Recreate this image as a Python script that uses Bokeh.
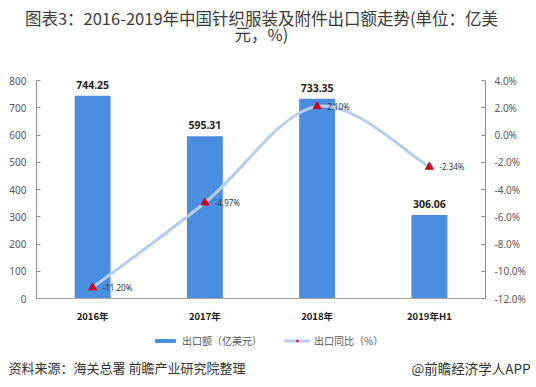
import numpy as np
from bokeh.plotting import figure
from bokeh.models import (Range1d, LinearAxis, FixedTicker, Legend, LegendItem, Label,
                          ColumnDataSource, PrintfTickFormatter)
from bokeh.core.properties import value
from bokeh.embed import file_html
from bokeh.resources import INLINE

# ---------------- data ----------------
categories = ["2016年", "2017年", "2018年", "2019年H1"]
export_value = [744.25, 595.31, 733.35, 306.06]          # 亿美元
export_yoy = [-11.20, -4.97, 2.10, -2.34]                # %
value_labels = ["744.25", "595.31", "733.35", "306.06"]
yoy_labels = ["-11.20%", "-4.97%", "2.10%", "-2.34%"]
left_ticks = [0, 100, 200, 300, 400, 500, 600, 700, 800]
right_ticks = [-12, -10, -8, -6, -4, -2, 0, 2, 4]

title_line1 = "图表3：2016-2019年中国针织服装及附件出口额走势(单位：亿美"
title_line2 = "元，%)"
source_text = "资料来源：海关总署 前瞻产业研究院整理"
brand_text = "@前瞻经济学人APP"
legend_bar = "出口额（亿美元）"
legend_line = "出口同比（%）"

# ---------------- style ----------------
CJK = "Noto Sans CJK SC"
LAT = "Noto Sans"
BAR_COLOR = "#4a8ee0"
LINE_COLOR = "#b7cdea"
MARK_COLOR = "#d0021b"
AXIS_COLOR = "#8c8c8c"
TICK_TEXT = "#595959"

W, H = 536, 387
PL, PR, PT, PB = 36, 485, 80, 298      # plot-area edges in canvas px
n = len(categories)
xs = [i + 0.5 for i in range(n)]

x_per_px = n / (PR - PL)
lo, hi = left_ticks[0], left_ticks[-1]
rlo, rhi = right_ticks[0], right_ticks[-1]
y_per_px = (hi - lo) / (PB - PT)
r_per_px = (rhi - rlo) / (PB - PT)

def X(px):
    return (px - PL) * x_per_px

def Y(py):
    return lo + (PB - py) * y_per_px

p = figure(width=W, height=H, output_backend="svg", toolbar_location=None,
           x_range=Range1d(X(0), X(W)), y_range=Range1d(Y(H), Y(0)),
           min_border_left=0, min_border_right=0, min_border_top=0,
           min_border_bottom=0)
p.extra_y_ranges = {"pct": Range1d(rlo - (H - PB) * r_per_px, rhi + PT * r_per_px)}
p.outline_line_color = None
p.xgrid.visible = False
p.ygrid.visible = False
p.background_fill_color = "white"
p.border_fill_color = "white"

# axes (drawn at fixed places inside the canvas)
ya = p.yaxis[0]
ya.fixed_location = 0
ya.bounds = (lo, hi)
ya.ticker = FixedTicker(ticks=left_ticks)
ya.axis_line_color = AXIS_COLOR
ya.major_tick_line_color = AXIS_COLOR
ya.major_tick_in = 4
ya.major_tick_out = 0
ya.minor_tick_line_color = None
ya.major_label_text_font = LAT
ya.major_label_text_font_size = "10px"
ya.major_label_text_color = TICK_TEXT
ya.major_label_standoff = 10

ra = LinearAxis(y_range_name="pct", ticker=FixedTicker(ticks=right_ticks),
                formatter=PrintfTickFormatter(format="%.1f%%"))
ra.fixed_location = n
ra.bounds = (rlo, rhi)
ra.axis_line_color = AXIS_COLOR
ra.major_tick_line_color = AXIS_COLOR
ra.major_tick_in = 4
ra.major_tick_out = 0
ra.minor_tick_line_color = None
ra.major_label_text_font = LAT
ra.major_label_text_font_size = "10px"
ra.major_label_text_color = TICK_TEXT
ra.major_label_standoff = 9
p.add_layout(ra, "right")

xa = p.xaxis[0]
xa.fixed_location = lo
xa.bounds = (0, n)
xa.ticker = FixedTicker(ticks=xs)
xa.major_label_overrides = {x: c for x, c in zip(xs, categories)}
xa.axis_line_color = "#a6a6a6"
xa.major_tick_line_color = None
xa.minor_tick_line_color = None
xa.major_label_text_font = CJK
xa.major_label_text_font_style = "bold"
xa.major_label_text_font_size = "9.5px"
xa.major_label_text_color = "#1a1a1a"
xa.major_label_standoff = 4

# bars
src = ColumnDataSource(dict(x=xs, v=export_value, y=export_yoy,
                            vl=value_labels, yl=yoy_labels))
bars = p.vbar(x="x", top="v", width=0.32, bottom=0, source=src,
              fill_color=BAR_COLOR, line_color=None)
p.text(x="x", y="v", text="vl", source=src, text_align="center",
       text_baseline="bottom", y_offset=-7, text_font=value(LAT),
       text_font_style="bold", text_font_size="10.5px", text_color="#1f1f1f")

# smooth line (Catmull-Rom -> Bezier)
pts = np.array(list(zip(xs, export_yoy)), dtype=float)
b = dict(x0=[], y0=[], x1=[], y1=[], cx0=[], cy0=[], cx1=[], cy1=[])
for i in range(n - 1):
    pm = pts[max(i - 1, 0)]
    p0 = pts[i]
    p1 = pts[i + 1]
    p2 = pts[min(i + 2, n - 1)]
    c0 = p0 + (p1 - pm) / 6
    c1 = p1 - (p2 - p0) / 6
    b["x0"].append(p0[0]); b["y0"].append(p0[1])
    b["x1"].append(p1[0]); b["y1"].append(p1[1])
    b["cx0"].append(c0[0]); b["cy0"].append(c0[1])
    b["cx1"].append(c1[0]); b["cy1"].append(c1[1])
line = p.bezier(source=ColumnDataSource(b), x0="x0", y0="y0", x1="x1", y1="y1",
                cx0="cx0", cy0="cy0", cx1="cx1", cy1="cy1",
                line_color=LINE_COLOR, line_width=3, y_range_name="pct")
marks = p.scatter(x="x", y="y", source=src, marker="triangle", size=8,
                  fill_color=MARK_COLOR, line_color=MARK_COLOR, y_range_name="pct")
p.text(x="x", y="y", text="yl", source=src, y_range_name="pct",
       text_align="left", text_baseline="middle", x_offset=10,
       text_font=value(LAT), text_font_size="8px", text_color="#333333")

# legend
leg = Legend(items=[LegendItem(label=legend_bar, renderers=[bars]),
                    LegendItem(label=legend_line, renderers=[line, marks])],
             orientation="horizontal", location=(152, 39),
             label_text_font=CJK, label_text_font_size="10px",
             label_text_color=TICK_TEXT, glyph_width=26, glyph_height=5,
             label_height=12, label_standoff=4, spacing=22, padding=2, margin=0,
             border_line_color=None, background_fill_alpha=0)
p.add_layout(leg, "center")

# titles & source line
def add_label(px, py, text, size, align="center", color="#3a3a3a"):
    p.add_layout(Label(x=X(px), y=Y(py), text=text, text_align=align,
                       text_baseline="middle", text_font=CJK, text_font_size=size,
                       text_color=color))

add_label(261, 17, title_line1, "16.5px")
add_label(261, 33, title_line2, "16.5px")
add_label(8, 367, source_text, "13px", align="left", color="#333333")
add_label(530, 367, brand_text, "13.5px", align="right", color="#333333")

open("out.html", "w").write(file_html(p, INLINE))
